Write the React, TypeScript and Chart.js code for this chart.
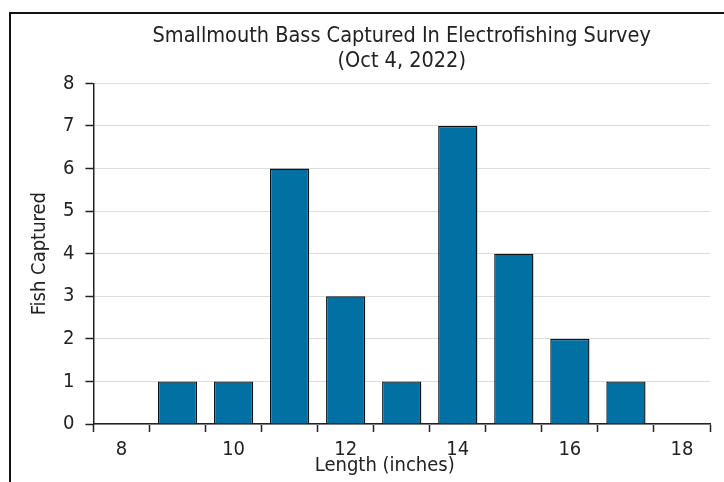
import React, { useEffect, useRef } from "react";
import { Chart, registerables } from "chart.js";

Chart.register(...registerables);

const lengths = ["8", "9", "10", "11", "12", "13", "14", "15", "16", "17", "18"];
const fishCaptured = [0, 1, 1, 6, 3, 1, 7, 4, 2, 1, 0];
const titleLines = ["Smallmouth Bass Captured In Electrofishing Survey", "(Oct 4, 2022)"];
const xTitle = "Length (inches)";
const yTitle = "Fish Captured";

const FONT = "'Liberation Sans Narrow', 'DejaVu Sans Condensed', 'Roboto', sans-serif";

const xTitlePlugin = {
  id: "xTitleOffset",
  afterDraw(chart: any) {
    const { ctx, chartArea } = chart;
    ctx.save();
    ctx.font = `20px ${FONT}`;
    ctx.fillStyle = "#222";
    ctx.textAlign = "center";
    ctx.textBaseline = "middle";
    ctx.fillText(xTitle, (chartArea.left + chartArea.right) / 2 - 17, 466);
    ctx.restore();
  },
};

export default function App() {
  const ref = useRef<HTMLCanvasElement | null>(null);
  useEffect(() => {
    if (!ref.current) return;
    const chart = new Chart(ref.current, {
      type: "bar",
      data: {
        labels: lengths,
        datasets: [
          {
            data: fishCaptured,
            backgroundColor: "#0071a2",
            borderColor: "#111",
            borderWidth: 1.4,
            barPercentage: 0.7,
            categoryPercentage: 1,
          },
        ],
      },
      plugins: [xTitlePlugin],
      options: {
        animation: false,
        responsive: false,
        layout: { padding: { left: 28, right: 14, top: 0, bottom: 0 } },
        plugins: {
          legend: { display: false },
          tooltip: { enabled: false },
          title: {
            display: true,
            fullSize: false,
            text: titleLines,
            color: "#222",
            font: { family: FONT, size: 21.5, weight: "normal", lineHeight: 1.17 },
            padding: { top: 24, bottom: 9 },
          },
        },
        scales: {
          x: {
            offset: true,
            afterFit: (s: any) => {
              s.height = 58;
            },
            grid: {
              offset: true,
              drawOnChartArea: false,
              tickLength: 8,
              tickColor: "#222",
              tickWidth: 1.5,
            },
            border: { color: "#222", width: 1.5 },
            ticks: {
              color: "#222",
              font: { family: FONT, size: 20 },
              padding: 6,
              maxRotation: 0,
              autoSkip: false,
              callback: (_v: any, i: number) => (Number(lengths[i]) % 2 === 0 ? lengths[i] : ""),
            },
            title: { display: false },
          },
          y: {
            min: 0,
            max: 8,
            grid: { color: "#dddddd", tickColor: "#222", tickLength: 8, tickWidth: 1.5 },
            border: { color: "#222", width: 1.5 },
            ticks: {
              stepSize: 1,
              color: "#222",
              font: { family: FONT, size: 20 },
              padding: 11,
            },
            title: {
              display: true,
              text: yTitle,
              color: "#222",
              font: { family: FONT, size: 20 },
              padding: { top: 0, bottom: 0 },
            },
          },
        },
      },
    });
    return () => chart.destroy();
  }, []);
  return (
    <div style={{ position: "fixed", left: 0, top: 0, width: 724, height: 482, background: "#fff" }}>
      <canvas ref={ref} width={724} height={482} style={{ display: "block" }} />
      <div
        style={{
          position: "absolute",
          left: 9,
          top: 12,
          width: 715,
          height: 470,
          borderLeft: "2px solid #111",
          borderTop: "2px solid #111",
          boxSizing: "border-box",
          pointerEvents: "none",
        }}
      />
    </div>
  );
}
